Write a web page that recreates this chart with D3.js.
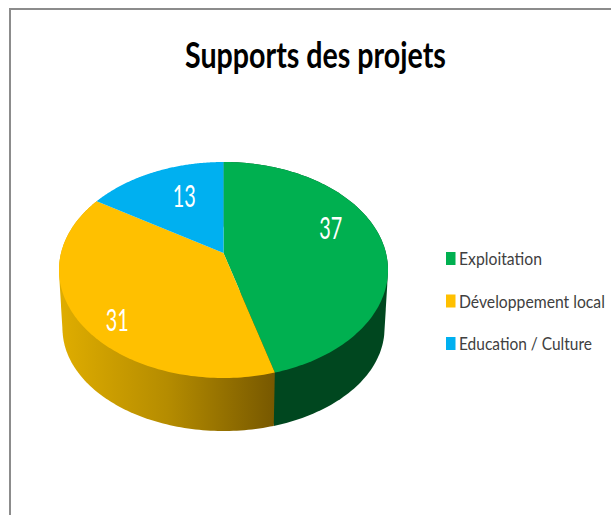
<!DOCTYPE html>
<html>
<head>
<meta charset="utf-8">
<script src="https://cdn.jsdelivr.net/npm/d3@7"></script>
<style>
html,body{margin:0;padding:0;background:#fff;overflow:hidden}
svg{display:block}
text{font-family:Lato,"Open Sans",sans-serif}
</style>
</head>
<body>
<svg id="chart" width="611" height="515"></svg>
<script>
const titleText = "Supports des projets";
const categories = ["Exploitation", "Développement local", "Education / Culture"];
const values = [37, 31, 13];
const colors = ["#00b050", "#ffc000", "#00b0f0"];
const sideColors = ["#00471f", null, null];

const W = 611, H = 515;
const svg = d3.select("#chart").attr("viewBox", [0, 0, W, H]);

// squeeze a text horizontally so that it spans exactly `width`
function fitText(sel, x, y, width, anchor) {
  const natural = sel.node().getComputedTextLength();
  const k = width / natural;
  const left = anchor === "middle" ? x - width / 2 : x;
  sel.attr("transform", `translate(${left},${y}) scale(${k},1)`);
  return sel;
}

// frame
svg.append("path").attr("d", d3.line()([[10, H], [10, 9], [W, 9]]))
  .attr("fill", "none").attr("stroke", "#8c8c8c").attr("stroke-width", 2);

// perspective pie
const topDisc = {cx: 223.5, cy: 270, rx: 164.5, ry: 108};
const baseDisc = {cx: 223.5, cy: 328.5, rx: 161, ry: 102.5};
const tilt = -0.157;

function project(disc, angle, rho = 1) {
  const u = rho * Math.sin(angle), v = -rho * Math.cos(angle);
  const d = 1 + tilt * v;
  const sx = d3.scaleLinear().domain([-1, 1]).range([disc.cx - disc.rx, disc.cx + disc.rx]);
  const sy = d3.scaleLinear().domain([-1, 1]).range([disc.cy - disc.ry, disc.cy + disc.ry]);
  return [sx(u * Math.sqrt(1 - tilt * tilt) / d), sy((v + tilt) / d)];
}
const arcAngles = (a0, a1) => d3.range(0, 121).map(i => a0 + (a1 - a0) * i / 120);

const slices = d3.pie().sort(null).value(d => d)(values);
const line = d3.line();

// yellow side gradient
const defs = svg.append("defs");
const grad = defs.append("linearGradient").attr("id", "sideGold")
  .attr("gradientUnits", "userSpaceOnUse")
  .attr("x1", 60).attr("x2", 275).attr("y1", 0).attr("y2", 0);
grad.append("stop").attr("offset", 0).attr("stop-color", "#dfad00");
grad.append("stop").attr("offset", 0.5).attr("stop-color", "#b58c00");
grad.append("stop").attr("offset", 1).attr("stop-color", "#775800");

// side walls (drawn under the top face): hull of the slice's rim on both discs
slices.slice(0, 2).forEach((s, i) => {
  const angles = arcAngles(s.startAngle, s.endAngle);
  const pts = angles.map(a => project(topDisc, a)).concat(angles.map(a => project(baseDisc, a)));
  svg.append("path").attr("d", line(d3.polygonHull(pts)) + "Z")
    .attr("fill", sideColors[i] || "url(#sideGold)");
});

// top faces
slices.forEach((s, i) => {
  const pts = [project(topDisc, 0, 0)].concat(arcAngles(s.startAngle, s.endAngle).map(a => project(topDisc, a)));
  svg.append("path").attr("d", line(pts) + "Z").attr("fill", colors[i]);
});

// value labels
const labelNudge = [[1, -16], [-13, 22], [9, 0]];
slices.forEach((s, i) => {
  const p = project(topDisc, (s.startAngle + s.endAngle) / 2, 0.67);
  const t = svg.append("text")
    .attr("font-size", 30).attr("fill", "#fff")
    .text(s.data);
  fitText(t, p[0] + labelNudge[i][0], p[1] + labelNudge[i][1] + 11, 23, "middle");
});

// title
fitText(svg.append("text")
  .attr("font-size", 36).attr("font-weight", 700).attr("fill", "#000")
  .text(titleText), 315.5, 68, 261, "middle");

// legend
const legendY = d3.scalePoint().domain(categories).range([265, 350]);
const legendWidths = [83, 146, 133];
categories.forEach((c, i) => {
  const y = legendY(c);
  svg.append("rect").attr("x", 446).attr("y", y - 13).attr("width", 9.5).attr("height", 13).attr("fill", colors[i]);
  fitText(svg.append("text")
    .attr("font-size", 18).attr("fill", "#404040")
    .text(c), 459, y, legendWidths[i], "start");
});
</script>
</body>
</html>
